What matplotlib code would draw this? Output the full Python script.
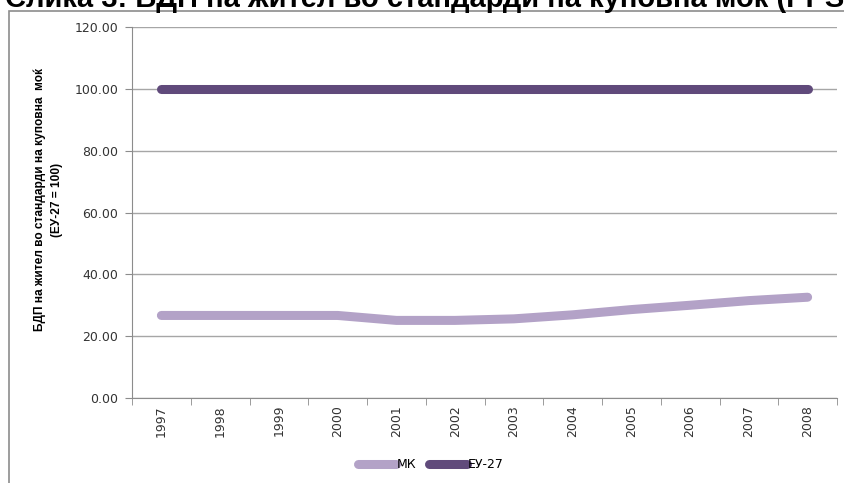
import matplotlib.pyplot as plt
from matplotlib.patches import Rectangle
from matplotlib.ticker import MultipleLocator, FixedLocator

years = ['1997', '1998', '1999', '2000', '2001', '2002',
         '2003', '2004', '2005', '2006', '2007', '2008']
mk = [26.7, 26.7, 26.7, 26.7, 25.1, 25.1, 25.6, 26.9, 28.6, 30.0, 31.5, 32.6]
eu27 = [100, 100, 100, 100, 100, 100, 100, 100, 100, 100, 100, 100]

plt.rcParams['font.family'] = ['DejaVu Sans']

fig = plt.figure(figsize=(8.44, 4.83), dpi=100)

# outer chart frame (cut by the image edges)
fig.patches.append(Rectangle((9 / 844, -0.1), 1.2, 1 - 11 / 483 + 0.1,
                             transform=fig.transFigure, fill=False,
                             edgecolor='#8c8c8c', lw=1.2))

# title, top part cut off
fig.text(5 / 844, 1 - 7 / 483, 'Слика 3: БДП на жител во стандарди на куповна моќ (PPS)',
         fontsize=21, fontweight='bold', va='baseline', ha='left',
         family=['Liberation Sans', 'DejaVu Sans'])

ax = fig.add_axes([132 / 844, 1 - 398 / 483, 705 / 844, 371 / 483])
x = range(len(years))
ax.plot(x, mk, color='#b3a2c7', lw=6.5, solid_capstyle='round', label='МК')
ax.plot(x, eu27, color='#604a7b', lw=6.5, solid_capstyle='round', label='ЕУ-27')

ax.set_ylim(0, 120)
ax.set_xlim(-0.5, len(years) - 0.5)
ax.yaxis.set_major_locator(MultipleLocator(20))
ax.set_yticklabels([f'{v:.2f}' for v in ax.get_yticks()])
ax.grid(axis='y', color='#a6a6a6', lw=1)
ax.set_axisbelow(True)

ax.set_xticks(list(x))
ax.set_xticklabels(years, rotation=90)
ax.xaxis.set_minor_locator(FixedLocator([i - 0.5 for i in range(len(years) + 1)]))
ax.tick_params(axis='x', which='major', length=0, pad=5, labelsize=9, labelcolor='#333333')
ax.tick_params(axis='x', which='minor', length=5, color='#8c8c8c')
ax.tick_params(axis='y', length=5, color='#8c8c8c', labelsize=9, labelcolor='#333333', pad=5)

for s in ['top', 'right']:
    ax.spines[s].set_visible(False)
for s in ['left', 'bottom']:
    ax.spines[s].set_color('#8c8c8c')

ax.set_ylabel('БДП на жител во стандарди на куповна  моќ\n(ЕУ-27 = 100)',
              fontsize=8.6, fontweight='bold', linespacing=1.5,
              family=['Liberation Sans', 'DejaVu Sans'])
ax.yaxis.set_label_coords(-0.098, 0.535)

fig.legend(loc='center', bbox_to_anchor=(431 / 844, 1 - 465 / 483), ncol=2,
           frameon=False, fontsize=9, handlelength=3.0, handletextpad=0.1,
           columnspacing=1.0)

fig.savefig('out.png', dpi=100)
